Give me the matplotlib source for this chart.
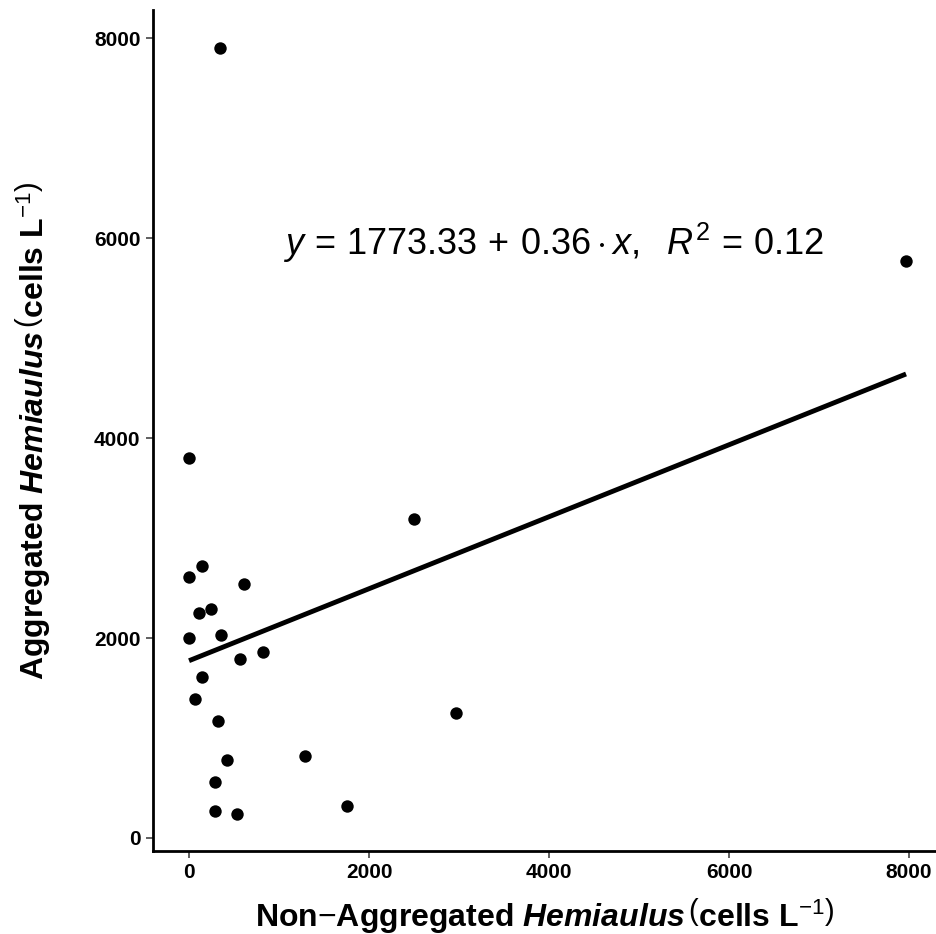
import matplotlib
matplotlib.use("Agg")
import matplotlib.pyplot as plt
import numpy as np

# ---------- DATA ----------
non_aggregated = [344, 7967, 0, 2500, 0, 141, 608, 108, 248, 0, 356, 570,
                  822, 141, 70, 319, 2967, 1289, 426, 286, 286, 537, 1756]
aggregated = [7900, 5770, 3800, 3190, 2610, 2720, 2540, 2253, 2287, 1997, 2033, 1787,
              1857, 1607, 1387, 1170, 1250, 820, 780, 563, 273, 240, 320]
intercept = 1773.33
slope = 0.36
r_squared = 0.12
x_ticks = [0, 2000, 4000, 6000, 8000]
y_ticks = [0, 2000, 4000, 6000, 8000]

# ---------- STYLE ----------
plt.rcParams['font.family'] = ['Liberation Sans', 'DejaVu Sans']
plt.rcParams['mathtext.fontset'] = 'custom'
plt.rcParams['mathtext.rm'] = 'Liberation Sans'
plt.rcParams['mathtext.it'] = 'Liberation Sans:italic'
plt.rcParams['mathtext.bf'] = 'Liberation Sans:bold'
plt.rcParams['mathtext.bfit'] = 'Liberation Sans:italic:bold'

fig = plt.figure(figsize=(9.36, 9.34), dpi=100)
ax = fig.add_axes([0.1635, 0.0889, 0.8365, 0.9001])

ax.scatter(non_aggregated, aggregated, s=80, color='black', zorder=3, linewidths=0)

x_fit = np.array([min(non_aggregated), max(non_aggregated)])
ax.plot(x_fit, intercept + slope * x_fit, color='black', lw=3.5, solid_capstyle='butt')

ax.text(1044, 5950,
        r"$y\,=\,%.2f\,+\,%.2f\cdot x,\ \ R^2\,=\,%.2f$" % (intercept, slope, r_squared),
        fontsize=26, ha='left', va='center')

ax.set_xlim(-400, 8300)
ax.set_ylim(-130, 8280)
ax.set_xticks(x_ticks)
ax.set_yticks(y_ticks)
ax.tick_params(axis='both', length=5, width=1.2, color='#444444',
               labelsize=15, pad=4)
for lbl in ax.get_xticklabels() + ax.get_yticklabels():
    lbl.set_fontweight('bold')

for side in ['top', 'right']:
    ax.spines[side].set_visible(False)
for side in ['left', 'bottom']:
    ax.spines[side].set_linewidth(2)
    ax.spines[side].set_color('black')

ax.set_xlabel(r"Non$-$Aggregated $\mathbfit{Hemiaulus}\,\left(\mathbf{cells\ L}^{-1}\right)$",
              fontsize=23, fontweight='bold', labelpad=10)
ax.set_ylabel(r"Aggregated $\mathbfit{Hemiaulus}\,\left(\mathbf{cells\ L}^{-1}\right)$",
              fontsize=23, fontweight='bold', labelpad=30)

fig.savefig("out.png", dpi=100)
